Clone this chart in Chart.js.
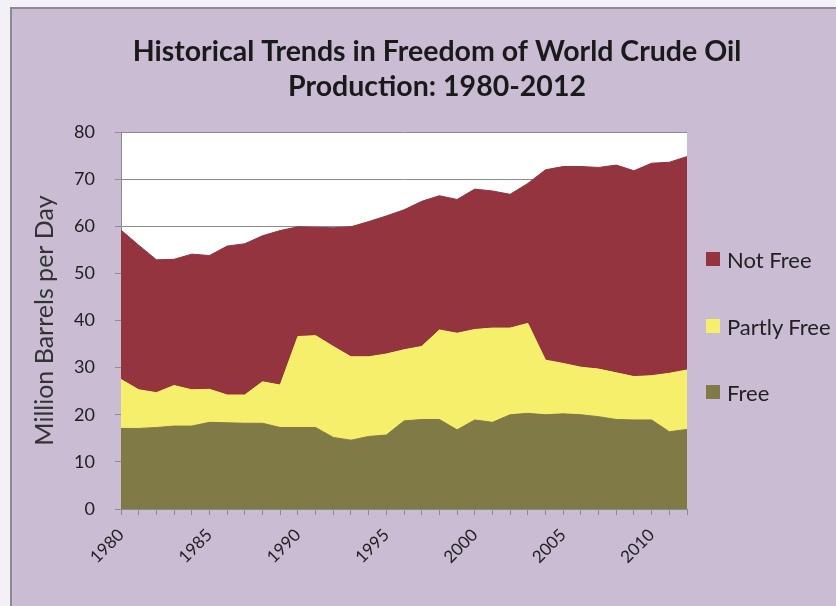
<!DOCTYPE html>
<html>
<head>
<meta charset="utf-8">
<title>Historical Trends in Freedom of World Crude Oil Production</title>
<script src="https://cdn.jsdelivr.net/npm/chart.js@4.4.1/dist/chart.umd.min.js"></script>
<style>
  html, body { margin: 0; padding: 0; width: 836px; height: 606px; overflow: hidden; background: #f3f1f5; }
  #frame { position: absolute; left: 10px; top: 7px; width: 840px; height: 610px; background: #cabcd3;
           border-left: 2px solid #8d8896; border-top: 2px solid #8d8896; }
  #chart { position: absolute; left: 0; top: 0; }
  .legend-item { position: absolute; left: 706px; height: 28px; display: flex; align-items: center;
                 font: 22px Lato, sans-serif; color: #222; white-space: nowrap; }
  .legend-item span { display: inline-block; width: 14px; height: 14px; margin-right: 7px; }
</style>
</head>
<body>
<div id="frame"></div>
<canvas id="chart" width="874" height="606"></canvas>
<div id="legend"></div>
<script>
  // values (million barrels per day)
  const years = [1980, 1981, 1982, 1983, 1984, 1985, 1986, 1987, 1988, 1989,
                 1990, 1991, 1992, 1993, 1994, 1995, 1996, 1997, 1998, 1999,
                 2000, 2001, 2002, 2003, 2004, 2005, 2006, 2007, 2008, 2009,
                 2010, 2011, 2012];
  const free = [17.1, 17.1, 17.3, 17.6, 17.6, 18.4, 18.3, 18.2, 18.2, 17.3,
                17.3, 17.3, 15.2, 14.6, 15.4, 15.7, 18.7, 19.0, 19.0, 16.8,
                18.9, 18.4, 20.0, 20.3, 20.0, 20.2, 20.0, 19.6, 19.0, 18.9,
                18.9, 16.4, 16.9];
  const partlyFree = [10.4, 8.2, 7.4, 8.6, 7.7, 7.0, 5.9, 6.0, 8.8, 9.0,
                      19.3, 19.5, 19.3, 17.7, 16.9, 17.2, 15.1, 15.5, 19.0, 20.5,
                      19.2, 20.0, 18.4, 19.1, 11.6, 10.7, 10.1, 10.1, 9.9, 9.2,
                      9.4, 12.4, 12.6];
  const notFree = [31.7, 30.7, 28.2, 26.8, 28.8, 28.4, 31.6, 32.1, 31.0, 32.8,
                   23.3, 23.0, 25.2, 27.6, 28.7, 29.3, 29.7, 30.8, 28.5, 28.4,
                   29.8, 29.1, 28.4, 29.7, 40.4, 41.8, 42.6, 42.8, 44.1, 43.7,
                   45.1, 44.8, 45.3];
  const xTickYears = [1980, 1985, 1990, 1995, 2000, 2005, 2010];

  const COLORS = { free: '#807a47', partly: '#f5ef6c', notFree: '#93343f' };
  const FONT = 'Lato';

  // legend (html, to the right of the plot)
  const legendItems = [
    { label: 'Not Free', color: COLORS.notFree, y: 259 },
    { label: 'Partly Free', color: COLORS.partly, y: 326 },
    { label: 'Free', color: COLORS.free, y: 392 }
  ];
  const legendEl = document.getElementById('legend');
  legendItems.forEach(item => {
    const div = document.createElement('div');
    div.className = 'legend-item';
    div.style.top = (item.y - 14) + 'px';
    div.innerHTML = `<span style="background:${item.color}"></span>${item.label}`;
    legendEl.appendChild(div);
  });

  // white plot area behind the areas
  const plotBg = {
    id: 'plotBg',
    beforeDraw(chart) {
      const { ctx, chartArea: a } = chart;
      ctx.save();
      ctx.fillStyle = '#ffffff';
      ctx.fillRect(a.left, a.top, a.width, a.height);
      ctx.restore();
    }
  };

  const PLOT_RIGHT = 687;
  const canvas = document.getElementById('chart');

  new Chart(canvas.getContext('2d'), {
    type: 'line',
    data: {
      labels: years.map(String),
      datasets: [
        { label: 'Free', data: free, backgroundColor: COLORS.free, borderColor: COLORS.free, fill: 'origin' },
        { label: 'Partly Free', data: partlyFree, backgroundColor: COLORS.partly, borderColor: COLORS.partly, fill: '-1' },
        { label: 'Not Free', data: notFree, backgroundColor: COLORS.notFree, borderColor: COLORS.notFree, fill: '-1' }
      ]
    },
    options: {
      responsive: false,
      animation: false,
      layout: { padding: 0 },
      elements: {
        point: { radius: 0, hoverRadius: 0 },
        line: { tension: 0, borderWidth: 1 }
      },
      plugins: {
        legend: { display: false },
        tooltip: { enabled: false },
        title: {
          display: true,
          text: ['Historical Trends in Freedom of World Crude Oil', 'Production: 1980-2012'],
          color: '#1a1a1a',
          font: { family: FONT, size: 28.5, weight: 'bold', lineHeight: 1.23 },
          padding: { top: 34, bottom: 28 }
        }
      },
      scales: {
        x: {
          ticks: {
            autoSkip: false,
            maxRotation: 45,
            minRotation: 45,
            padding: 10,
            color: '#1e1e1e',
            font: { family: FONT, size: 17 },
            callback: (v, i) => xTickYears.includes(years[i]) ? String(years[i]) : ''
          },
          grid: { drawOnChartArea: false, color: '#8c8c8c', tickLength: 6 },
          border: { color: '#8c8c8c' },
          afterFit: s => { s.height = 97; }
        },
        y: {
          stacked: true,
          min: 0,
          max: 80,
          ticks: { stepSize: 10, padding: 20, color: '#1e1e1e', font: { family: FONT, size: 18 } },
          grid: { color: '#8c8c8c', tickLength: 6 },
          border: { color: '#8c8c8c' },
          title: {
            display: true,
            text: 'Million Barrels per Day',
            color: '#333',
            font: { family: FONT, size: 25 },
            padding: { top: 30 }
          },
          afterFit: s => { s.width = 121; }
        },
        // empty box on the right that reserves room for the legend
        pad: {
          type: 'linear',
          axis: 'y',
          position: 'right',
          grid: { display: false },
          ticks: { display: false },
          border: { display: false },
          afterFit: s => { s.width = canvas.width - PLOT_RIGHT; }
        }
      }
    },
    plugins: [plotBg]
  });
</script>
</body>
</html>
